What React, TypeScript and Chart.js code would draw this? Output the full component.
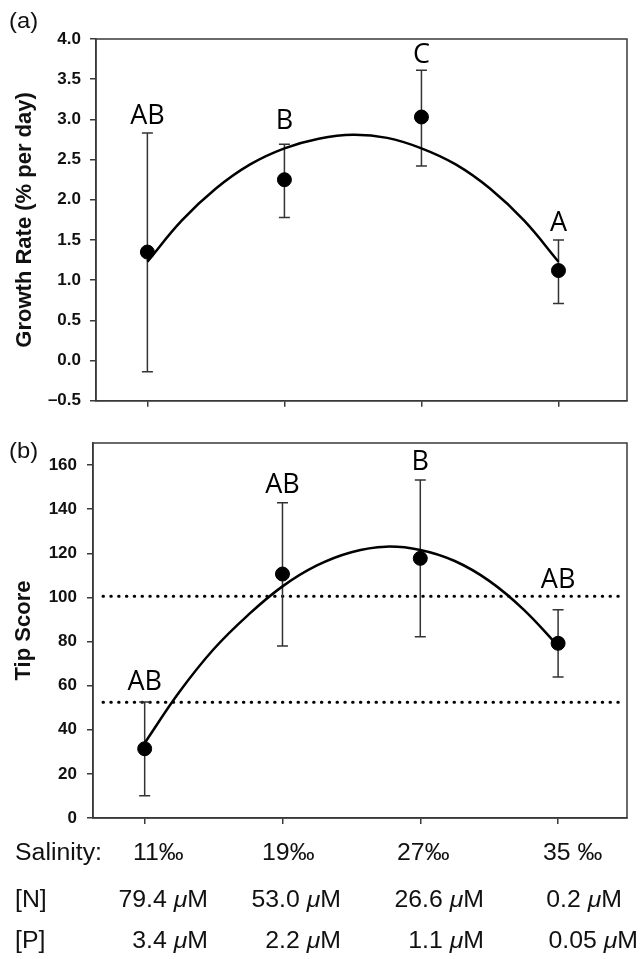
import React, { useEffect, useRef } from 'react';
import { Chart, registerables } from 'chart.js';

Chart.register(...registerables);

// ---------- data ----------
const salinity = [11, 19, 27, 35];

const growthMean = [1.35, 2.25, 3.03, 1.12];
const growthLow = [-0.14, 1.78, 2.42, 0.71];
const growthHigh = [2.83, 2.69, 3.61, 1.5];
const growthLetters = ['AB', 'B', 'C', 'A'];
const growthTicks = [-0.5, 0, 0.5, 1, 1.5, 2, 2.5, 3, 3.5, 4];

const fitSalinity = [11, 13, 15, 17, 19, 21, 23, 25, 27, 29, 31, 33, 35];
const growthFit = [1.23, 1.74, 2.14, 2.44, 2.64, 2.76, 2.81, 2.77, 2.64, 2.44, 2.14, 1.74, 1.23];

const tipMean = [31.4, 110.6, 117.7, 79.2];
const tipLow = [10.1, 78, 82.2, 63.9];
const tipHigh = [52.6, 142.9, 153.2, 94.4];
const tipLetters = ['AB', 'AB', 'B', 'AB'];
const tipTicks = [0, 20, 40, 60, 80, 100, 120, 140, 160];
const tipFit = [34, 57, 76.5, 92, 105, 114.5, 120.5, 123, 121.5, 116.5, 107.5, 94.5, 78];
const tipThresholds = [100.5, 52.5];

const salinityLabels = ['11‰', '19‰', '27‰', '35 ‰'];
const nitrogenLabels = ['79.4', '53.0', '26.6', '0.2'];
const phosphorusLabels = ['3.4', '2.2', '1.1', '0.05'];

// ---------- layout / style ----------
const FONT = "'Liberation Sans', Arial, sans-serif";
const TEXT = '#111';
const AXIS = '#3a3a3a';
const SX = 1.08;

const letterGapA = [9, 15, 7, 9];
const letterGapB = [12, 10, 10, 22];

type Run = { t: string; italic?: boolean };

function runsWidth(ctx: CanvasRenderingContext2D, runs: Run[], size: number) {
  let w = 0;
  for (const r of runs) {
    ctx.font = `${r.italic ? 'italic ' : ''}${size}px ${FONT}`;
    w += ctx.measureText(r.t).width;
  }
  return w;
}

function drawRuns(
  ctx: CanvasRenderingContext2D,
  runs: Run[],
  x: number,
  y: number,
  size: number,
  align: 'left' | 'right'
) {
  ctx.save();
  ctx.translate(x, y);
  ctx.scale(SX, 1);
  ctx.fillStyle = TEXT;
  ctx.textBaseline = 'alphabetic';
  ctx.textAlign = 'left';
  const w = runsWidth(ctx, runs, size);
  let cx = align === 'right' ? -w : 0;
  for (const r of runs) {
    ctx.font = `${r.italic ? 'italic ' : ''}${size}px ${FONT}`;
    ctx.fillText(r.t, cx, 0);
    cx += ctx.measureText(r.t).width;
  }
  ctx.restore();
}

function makePanelPlugin(
  id: string,
  panel: string,
  panelY: number,
  mean: number[],
  low: number[],
  high: number[],
  letters: string[],
  gaps: number[],
  thresholds: number[]
) {
  return {
    id,
    beforeDatasetsDraw(chart: any) {
      const { ctx, chartArea, scales } = chart;
      const xs = scales.x;
      const ys = scales.y;
      ctx.save();
      // frame
      ctx.strokeStyle = AXIS;
      ctx.lineWidth = 1.5;
      ctx.strokeRect(chartArea.left, chartArea.top, chartArea.right - chartArea.left, chartArea.bottom - chartArea.top);
      // thresholds
      ctx.strokeStyle = '#000';
      ctx.lineWidth = 3;
      ctx.lineCap = 'round';
      ctx.setLineDash([0.5, 7.3]);
      for (const t of thresholds) {
        const y = ys.getPixelForValue(t);
        ctx.beginPath();
        ctx.moveTo(chartArea.left + 10, y);
        ctx.lineTo(chartArea.right - 4, y);
        ctx.stroke();
      }
      ctx.setLineDash([]);
      ctx.lineCap = 'butt';
      // error bars
      ctx.strokeStyle = '#333';
      ctx.lineWidth = 1.5;
      for (let i = 0; i < mean.length; i++) {
        const x = xs.getPixelForValue(salinity[i]);
        const yl = ys.getPixelForValue(low[i]);
        const yh = ys.getPixelForValue(high[i]);
        ctx.beginPath();
        ctx.moveTo(x, yl);
        ctx.lineTo(x, yh);
        ctx.moveTo(x - 5.5, yl);
        ctx.lineTo(x + 5.5, yl);
        ctx.moveTo(x - 5.5, yh);
        ctx.lineTo(x + 5.5, yh);
        ctx.stroke();
      }
      ctx.restore();
    },
    afterDatasetsDraw(chart: any) {
      const { ctx, scales } = chart;
      const xs = scales.x;
      const ys = scales.y;
      ctx.save();
      ctx.fillStyle = '#000';
      ctx.font = `27px 'Open Sans', sans-serif`;
      ctx.textAlign = 'center';
      ctx.textBaseline = 'alphabetic';
      for (let i = 0; i < letters.length; i++) {
        const x = xs.getPixelForValue(salinity[i]);
        const yh = ys.getPixelForValue(high[i]);
        ctx.fillText(letters[i], x, yh - gaps[i]);
      }
      ctx.restore();
      drawRuns(ctx, [{ t: panel }], 9, panelY, 22, 'left');
    },
  };
}

const tablePlugin = {
  id: 'table',
  afterDraw(chart: any) {
    const { ctx } = chart;
    const size = 23;
    const rowY = [440, 487, 528];
    drawRuns(ctx, [{ t: 'Salinity:' }], 15, rowY[0], size, 'left');
    drawRuns(ctx, [{ t: '[N]' }], 15, rowY[1], size, 'left');
    drawRuns(ctx, [{ t: '[P]' }], 15, rowY[2], size, 'left');
    const salX = [133, 262, 397, 543];
    const nRight = [208, 341, 484, 622];
    const pRight = [208, 341, 484, 638];
    for (let i = 0; i < salinityLabels.length; i++) {
      drawRuns(ctx, [{ t: salinityLabels[i] }], salX[i], rowY[0], size, 'left');
      drawRuns(ctx, [{ t: nitrogenLabels[i] + ' ' }, { t: 'μ', italic: true }, { t: 'M' }], nRight[i], rowY[1], size, 'right');
      drawRuns(ctx, [{ t: phosphorusLabels[i] + ' ' }, { t: 'μ', italic: true }, { t: 'M' }], pRight[i], rowY[2], size, 'right');
    }
  },
};

function axisCommon(tickVals: number[]) {
  return {
    afterBuildTicks: (s: any) => {
      s.ticks = tickVals.map((v) => ({ value: v }));
    },
    grid: { drawOnChartArea: false, tickLength: 6, color: AXIS, lineWidth: 1.5 },
    border: { color: AXIS, width: 1.5 },
  };
}

function buildConfig(opts: {
  mean: number[];
  fit: number[];
  yMin: number;
  yMax: number;
  yTicks: number[];
  yTitle: string;
  yWidth: number;
  titlePad: number;
  tickPad: number;
  padTop: number;
  xHeight: number;
  decimals: number;
  plugins: any[];
}) {
  return {
    type: 'scatter' as const,
    data: {
      datasets: [
        {
          type: 'line' as const,
          data: fitSalinity.map((x, i) => ({ x, y: opts.fit[i] })),
          borderColor: '#000',
          borderWidth: 2.5,
          pointRadius: 0,
          tension: 0.4,
          fill: false,
          order: 2,
        },
        {
          data: salinity.map((x, i) => ({ x, y: opts.mean[i] })),
          backgroundColor: '#000',
          borderColor: '#000',
          borderWidth: 1,
          pointRadius: 7,
          order: 1,
        },
      ],
    },
    options: {
      animation: false as const,
      responsive: false,
      layout: { padding: { top: opts.padTop, right: 13, left: 0, bottom: 0 } },
      plugins: { legend: { display: false }, tooltip: { enabled: false } },
      scales: {
        x: {
          type: 'linear' as const,
          min: 8,
          max: 39,
          ...axisCommon(salinity),
          ticks: { display: false },
          afterFit: (s: any) => {
            s.height = opts.xHeight;
          },
        },
        y: {
          type: 'linear' as const,
          min: opts.yMin,
          max: opts.yMax,
          ...axisCommon(opts.yTicks),
          ticks: {
            color: TEXT,
            padding: opts.tickPad,
            font: { family: FONT, weight: 'bold' as const, size: 17 },
            callback: (v: any) => Number(v).toFixed(opts.decimals).replace('-', '–'),
          },
          title: {
            display: true,
            text: opts.yTitle,
            color: TEXT,
            font: { family: FONT, weight: 'bold' as const, size: 22 },
            padding: { top: opts.titlePad, bottom: 0 },
          },
          afterFit: (s: any) => {
            s.width = opts.yWidth;
          },
        },
      },
    },
    plugins: opts.plugins,
  };
}

export default function App() {
  const refA = useRef<HTMLCanvasElement>(null);
  const refB = useRef<HTMLCanvasElement>(null);

  useEffect(() => {
    const a = new Chart(
      refA.current as HTMLCanvasElement,
      buildConfig({
        mean: growthMean,
        fit: growthFit,
        yMin: -0.5,
        yMax: 4,
        yTicks: growthTicks,
        yTitle: 'Growth Rate (% per day)',
        yWidth: 96,
        titlePad: 12,
        tickPad: 9,
        padTop: 39,
        xHeight: 11,
        decimals: 1,
        plugins: [makePanelPlugin('pa', '(a)', 28, growthMean, growthLow, growthHigh, growthLetters, letterGapA, [])],
      }) as any
    );
    const b = new Chart(
      refB.current as HTMLCanvasElement,
      buildConfig({
        mean: tipMean,
        fit: tipFit,
        yMin: 0,
        yMax: 170,
        yTicks: tipTicks,
        yTitle: 'Tip Score',
        yWidth: 93,
        titlePad: 11,
        tickPad: 10,
        padTop: 23,
        xHeight: 141,
        decimals: 0,
        plugins: [
          makePanelPlugin('pb', '(b)', 38, tipMean, tipLow, tipHigh, tipLetters, letterGapB, tipThresholds),
          tablePlugin,
        ],
      }) as any
    );
    return () => {
      a.destroy();
      b.destroy();
    };
  }, []);

  return (
    <div style={{ position: 'absolute', left: 0, top: 0, width: 640, height: 959, background: '#fff' }}>
      <canvas ref={refA} width={640} height={420} style={{ position: 'absolute', left: 0, top: 0, width: 640, height: 420 }} />
      <canvas ref={refB} width={640} height={539} style={{ position: 'absolute', left: 0, top: 420, width: 640, height: 539 }} />
    </div>
  );
}
